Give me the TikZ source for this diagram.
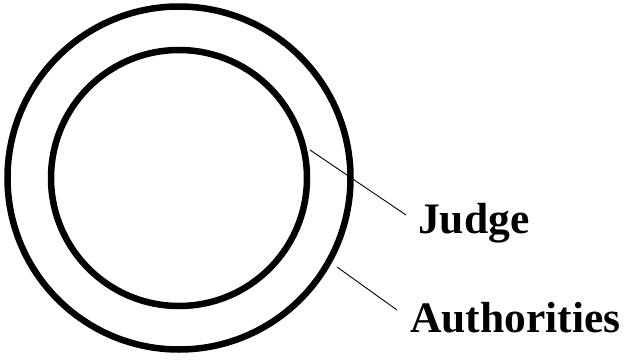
\documentclass[tikz,border=0pt]{standalone}
\usepackage{fontspec}
\setmainfont{Liberation Serif}
\begin{document}
\begin{tikzpicture}[x=1pt,y=1pt,
  ring/.style={draw=black,line width=6.5pt,circle,inner sep=0pt},
  lbl/.style={font=\fontsize{43.5}{48}\selectfont\bfseries,inner sep=0pt,anchor=base west},
  leader/.style={draw=black,line width=0.9pt}]
\useasboundingbox (0,0) rectangle (626,360);
\node[ring,minimum size=343pt] (outer) at (179,182) {};
\node[ring,minimum size=256pt] (inner) at (179,182) {};
\node[lbl] (judge) at (418,127) {Judge};
\node[lbl] (auth) at (410,28) {Authorities};
\coordinate (j1) at (310,210);
\coordinate (j2) at (406,145);
\coordinate (a1) at (337,93);
\coordinate (a2) at (397,50);
\draw[leader] (j1) -- (j2);
\draw[leader] (a1) -- (a2);
\end{tikzpicture}
\end{document}
